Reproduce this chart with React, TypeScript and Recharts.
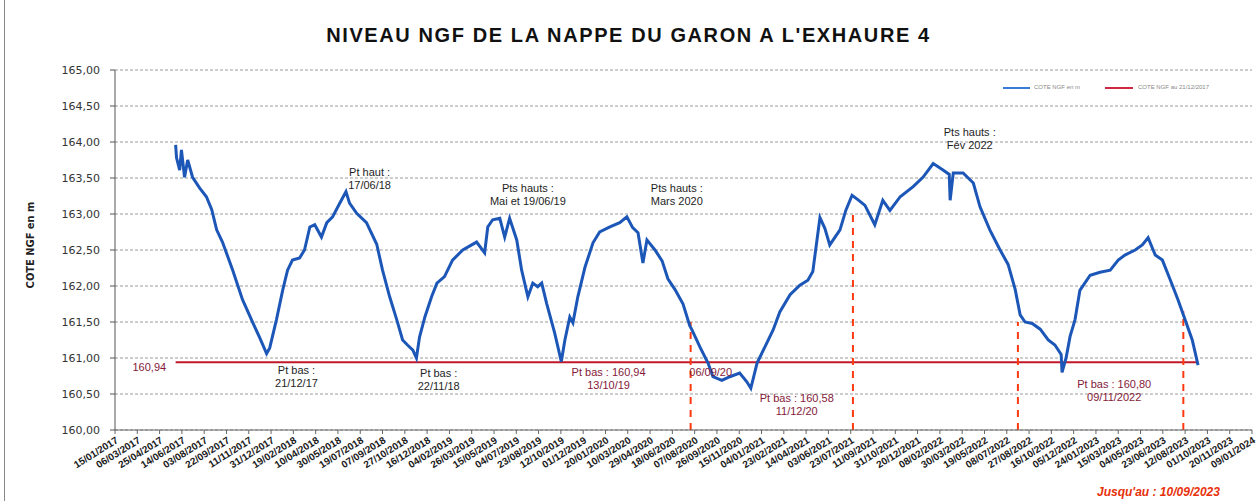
import React from 'react';
import { LineChart, Line, XAxis, YAxis, CartesianGrid, ReferenceLine, ReferenceDot } from 'recharts';

// niveau de la nappe, relevés
const dates = [
  '31/05/2017', '02/06/2017', '09/06/2017', '13/06/2017', '20/06/2017', '27/06/2017', '08/07/2017', '24/07/2017',
  '08/08/2017', '20/08/2017', '31/08/2017', '13/09/2017', '06/10/2017', '28/10/2017', '20/11/2017', '05/12/2017',
  '21/12/2017', '28/12/2017', '12/01/2018', '26/01/2018', '06/02/2018', '17/02/2018', '05/03/2018', '16/03/2018',
  '28/03/2018', '08/04/2018', '23/04/2018', '05/05/2018', '18/05/2018', '03/06/2018', '17/06/2018', '25/06/2018',
  '11/07/2018', '02/08/2018', '25/08/2018', '07/09/2018', '23/09/2018', '09/10/2018', '22/10/2018', '02/11/2018',
  '14/11/2018', '22/11/2018', '29/11/2018', '11/12/2018', '26/12/2018', '07/01/2019', '24/01/2019', '11/02/2019',
  '06/03/2019', '06/04/2019', '24/04/2019', '01/05/2019', '12/05/2019', '28/05/2019', '08/06/2019', '19/06/2019',
  '05/07/2019', '16/07/2019', '30/07/2019', '10/08/2019', '21/08/2019', '30/08/2019', '10/09/2019', '28/09/2019',
  '13/10/2019', '21/10/2019', '01/11/2019', '08/11/2019', '19/11/2019', '05/12/2019', '23/12/2019', '07/01/2020',
  '30/01/2020', '21/02/2020', '08/03/2020', '21/03/2020', '02/04/2020', '13/04/2020', '22/04/2020', '10/05/2020',
  '26/05/2020', '08/06/2020', '24/06/2020', '12/07/2020', '27/07/2020', '01/08/2020', '19/08/2020', '06/09/2020',
  '17/09/2020', '07/10/2020', '25/10/2020', '16/11/2020', '02/12/2020', '11/12/2020', '25/12/2020', '16/01/2021',
  '30/01/2021', '14/02/2021', '09/03/2021', '31/03/2021', '18/04/2021', '29/04/2021', '15/05/2021', '26/05/2021',
  '06/06/2021', '29/06/2021', '12/07/2021', '26/07/2021', '08/08/2021', '24/08/2021', '15/09/2021', '03/10/2021',
  '19/10/2021', '11/11/2021', '10/12/2021', '01/01/2022', '24/01/2022', '15/02/2022', '01/03/2022', '03/03/2022',
  '10/03/2022', '01/04/2022', '24/04/2022', '09/05/2022', '31/05/2022', '23/06/2022', '11/07/2022', '27/07/2022',
  '07/08/2022', '18/08/2022', '03/09/2022', '21/09/2022', '09/10/2022', '24/10/2022', '07/11/2022', '09/11/2022',
  '18/11/2022', '27/11/2022', '08/12/2022', '19/12/2022', '11/01/2023', '02/02/2023', '25/02/2023', '15/03/2023',
  '30/03/2023', '22/04/2023', '08/05/2023', '21/05/2023', '06/06/2023', '22/06/2023', '10/07/2023', '27/07/2023',
  '12/08/2023', '28/08/2023', '10/09/2023',
];

const levels = [
  163.96, 163.78, 163.61, 163.89, 163.51, 163.75, 163.51, 163.36,
  163.24, 163.06, 162.78, 162.61, 162.22, 161.81, 161.49, 161.29,
  161.06, 161.14, 161.53, 161.94, 162.22, 162.36, 162.39, 162.5,
  162.82, 162.85, 162.68, 162.88, 162.96, 163.15, 163.31, 163.15,
  163.01, 162.88, 162.58, 162.22, 161.85, 161.53, 161.25, 161.18,
  161.11, 161.0, 161.29, 161.57, 161.85, 162.04, 162.13, 162.36,
  162.5, 162.61, 162.46, 162.82, 162.92, 162.94, 162.68, 162.94,
  162.64, 162.22, 161.85, 162.04, 161.99, 162.04, 161.76, 161.35,
  160.95, 161.25, 161.57, 161.49, 161.85, 162.26, 162.6, 162.75,
  162.82, 162.88, 162.96, 162.81, 162.74, 162.32, 162.64, 162.5,
  162.35, 162.1, 161.95, 161.75, 161.45, 161.39, 161.15, 160.93,
  160.74, 160.69, 160.74, 160.79, 160.67, 160.58, 160.93, 161.21,
  161.39, 161.64, 161.88, 162.01, 162.08, 162.2, 162.95, 162.8,
  162.57, 162.78, 163.05, 163.26, 163.2, 163.12, 162.85, 163.19,
  163.05, 163.24, 163.38, 163.51, 163.7, 163.61, 163.55, 163.19,
  163.57, 163.57, 163.43, 163.1, 162.78, 162.5, 162.3, 161.95,
  161.6, 161.5, 161.48, 161.4, 161.25, 161.18, 161.05, 160.8,
  161.0, 161.3, 161.53, 161.94, 162.15, 162.19, 162.22, 162.36,
  162.43, 162.5, 162.57, 162.67, 162.43, 162.36, 162.08, 161.81,
  161.53, 161.25, 160.9,
];

const tickLabels = [
  '15/01/2017', '06/03/2017', '25/04/2017', '14/06/2017', '03/08/2017', '22/09/2017', '11/11/2017', '31/12/2017',
  '19/02/2018', '10/04/2018', '30/05/2018', '19/07/2018', '07/09/2018', '27/10/2018', '16/12/2018', '04/02/2019',
  '26/03/2019', '15/05/2019', '04/07/2019', '23/08/2019', '12/10/2019', '01/12/2019', '20/01/2020', '10/03/2020',
  '29/04/2020', '18/06/2020', '07/08/2020', '26/09/2020', '15/11/2020', '04/01/2021', '23/02/2021', '14/04/2021',
  '03/06/2021', '23/07/2021', '11/09/2021', '31/10/2021', '20/12/2021', '08/02/2022', '30/03/2022', '19/05/2022',
  '08/07/2022', '27/08/2022', '16/10/2022', '05/12/2022', '24/01/2023', '15/03/2023', '04/05/2023', '23/06/2023',
  '12/08/2023', '01/10/2023', '20/11/2023', '09/01/2024',
];

const yTicks = [160, 160.5, 161, 161.5, 162, 162.5, 163, 163.5, 164, 164.5, 165];

const lowLevel = 160.94;

// repères annuels (pointillés rouges)
const markerDates = ['29/07/2020', '28/07/2021', '02/08/2022', '08/08/2023'];
const markerLevels = [161.5, 163.03, 161.5, 161.65];

// annotations : date et cote du centre de la première ligne
const notes = [
  { date: '09/08/2018', level: 163.58, lines: ['Pt haut :', '17/06/18'], red: false },
  { date: '30/07/2019', level: 163.36, lines: ['Pts hauts :', 'Mai et 19/06/19'], red: false },
  { date: '28/06/2020', level: 163.36, lines: ['Pts hauts :', 'Mars 2020'], red: false },
  { date: '16/04/2022', level: 164.13, lines: ['Pts hauts :', 'Fév 2022'], red: false },
  { date: '26/02/2018', level: 160.83, lines: ['Pt bas :', '21/12/17'], red: false },
  { date: '11/01/2019', level: 160.79, lines: ['Pt bas :', '22/11/18'], red: false },
  { date: '27/01/2020', level: 160.81, lines: ['Pt bas : 160,94', '13/10/19'], red: true },
  { date: '12/09/2020', level: 160.81, lines: ['06/09/20'], red: true },
  { date: '24/03/2021', level: 160.44, lines: ['Pt bas : 160,58', '11/12/20'], red: true },
  { date: '06/03/2023', level: 160.63, lines: ['Pt bas : 160,80', '09/11/2022'], red: true },
  { date: '02/04/2017', level: 160.875, lines: ['160,94'], red: true },
];

const origin = Date.UTC(2017, 0, 15);
const toDay = (s: string) => {
  const [d, m, y] = s.split('/').map(Number);
  return (Date.UTC(y, m - 1, d) - origin) / 86400000;
};

const data = dates.map((d, i) => ({ t: toDay(d), niveau: levels[i] }));
const xTicks = tickLabels.map(toDay);

const FONT = '"Liberation Sans", Arial, sans-serif';

const DateTick = (props: any) => {
  const { x, y, payload } = props;
  const i = xTicks.indexOf(payload.value);
  const px = x + 4;
  const py = y + 6;
  return (
    <text
      x={px}
      y={py}
      transform={`rotate(-32 ${px} ${py})`}
      textAnchor="end"
      fontSize={10}
      fontWeight="bold"
      fontFamily={FONT}
      fill="#1a1a1a"
    >
      {tickLabels[i]}
    </text>
  );
};

const Note = ({ cx, cy, lines, red }: any) => (
  <text
    x={cx}
    y={cy}
    textAnchor="middle"
    fontSize={11}
    fontFamily={FONT}
    fill={red ? '#841a3a' : '#1e1e1e'}
  >
    {lines.map((l: string, i: number) => (
      <tspan key={i} x={cx} dy={i === 0 ? '0.35em' : 13}>
        {l}
      </tspan>
    ))}
  </text>
);

export default function App() {
  const first = data[0].t;
  const last = data[data.length - 1].t;
  return (
    <div style={{ position: 'absolute', left: 0, top: 0, width: 1257, height: 501, background: '#fff', fontFamily: FONT }}>
      <div style={{ position: 'absolute', left: 4, top: 0, width: 1, height: 501, background: '#888' }} />
      <div
        style={{
          position: 'absolute', left: 0, top: 24, width: 1257, textAlign: 'center',
          fontSize: 20, fontWeight: 'bold', color: '#111', letterSpacing: 1.6,
        }}
      >
        NIVEAU NGF DE LA NAPPE DU GARON A L'EXHAURE 4
      </div>
      <div
        style={{
          position: 'absolute', left: 30, top: 245, transform: 'translate(-50%, -50%) rotate(-90deg)',
          fontSize: 11, fontWeight: 'bold', color: '#222', whiteSpace: 'nowrap', fontFamily: '"DejaVu Sans Condensed", ' + FONT,
        }}
      >
        COTE NGF en m
      </div>
      <LineChart width={1257} height={501} data={data} margin={{ top: 70, right: 5, left: 0, bottom: 0 }}>
        <CartesianGrid horizontal vertical={false} stroke="#9a9a9a" strokeDasharray="3 2" />
        <XAxis
          dataKey="t"
          type="number"
          domain={[0, 2550]}
          ticks={xTicks}
          interval={0}
          height={71}
          tick={<DateTick />}
          tickSize={4}
          stroke="#666"
        />
        <YAxis
          domain={[160, 165]}
          ticks={yTicks}
          width={115}
          tickSize={5}
          tickMargin={10}
          stroke="#555"
          tickFormatter={(v: number) => v.toFixed(2).replace('.', ',')}
          tick={{ fontSize: 11, fill: '#333', fontFamily: '"DejaVu Sans", sans-serif' }}
        />
        <ReferenceLine
          segment={[{ x: first, y: lowLevel }, { x: last, y: lowLevel }]}
          stroke="#c0182a"
          strokeWidth={2}
        />
        {markerDates.map((d, i) => (
          <ReferenceLine
            key={d}
            segment={[{ x: toDay(d), y: 160 }, { x: toDay(d), y: markerLevels[i] }]}
            stroke="#ff3a10"
            strokeWidth={2}
            strokeDasharray="7 6"
          />
        ))}
        <Line
          type="linear"
          dataKey="niveau"
          stroke="#1c57b8"
          strokeWidth={3}
          dot={false}
          isAnimationActive={false}
        />
        {notes.map((n, i) => (
          <ReferenceDot
            key={i}
            x={toDay(n.date)}
            y={n.level}
            r={0}
            ifOverflow="visible"
            shape={(p: any) => <Note cx={p.cx} cy={p.cy} lines={n.lines} red={n.red} />}
          />
        ))}
      </LineChart>
      <div style={{ position: 'absolute', left: 1003, top: 87, width: 27, height: 2, background: '#3a7ad8' }} />
      <div style={{ position: 'absolute', left: 1034, top: 84, fontSize: 6, color: '#888', whiteSpace: 'nowrap' }}>
        COTE NGF en m
      </div>
      <div style={{ position: 'absolute', left: 1105, top: 87, width: 28, height: 2, background: '#d02840' }} />
      <div style={{ position: 'absolute', left: 1138, top: 84, fontSize: 6, color: '#888', whiteSpace: 'nowrap' }}>
        COTE NGF au 21/12/2017
      </div>
      <div
        style={{
          position: 'absolute', left: 1097, top: 485, fontSize: 12, fontWeight: 'bold', fontStyle: 'italic',
          color: '#e8300a', whiteSpace: 'nowrap',
        }}
      >
        Jusqu'au : 10/09/2023
      </div>
    </div>
  );
}
